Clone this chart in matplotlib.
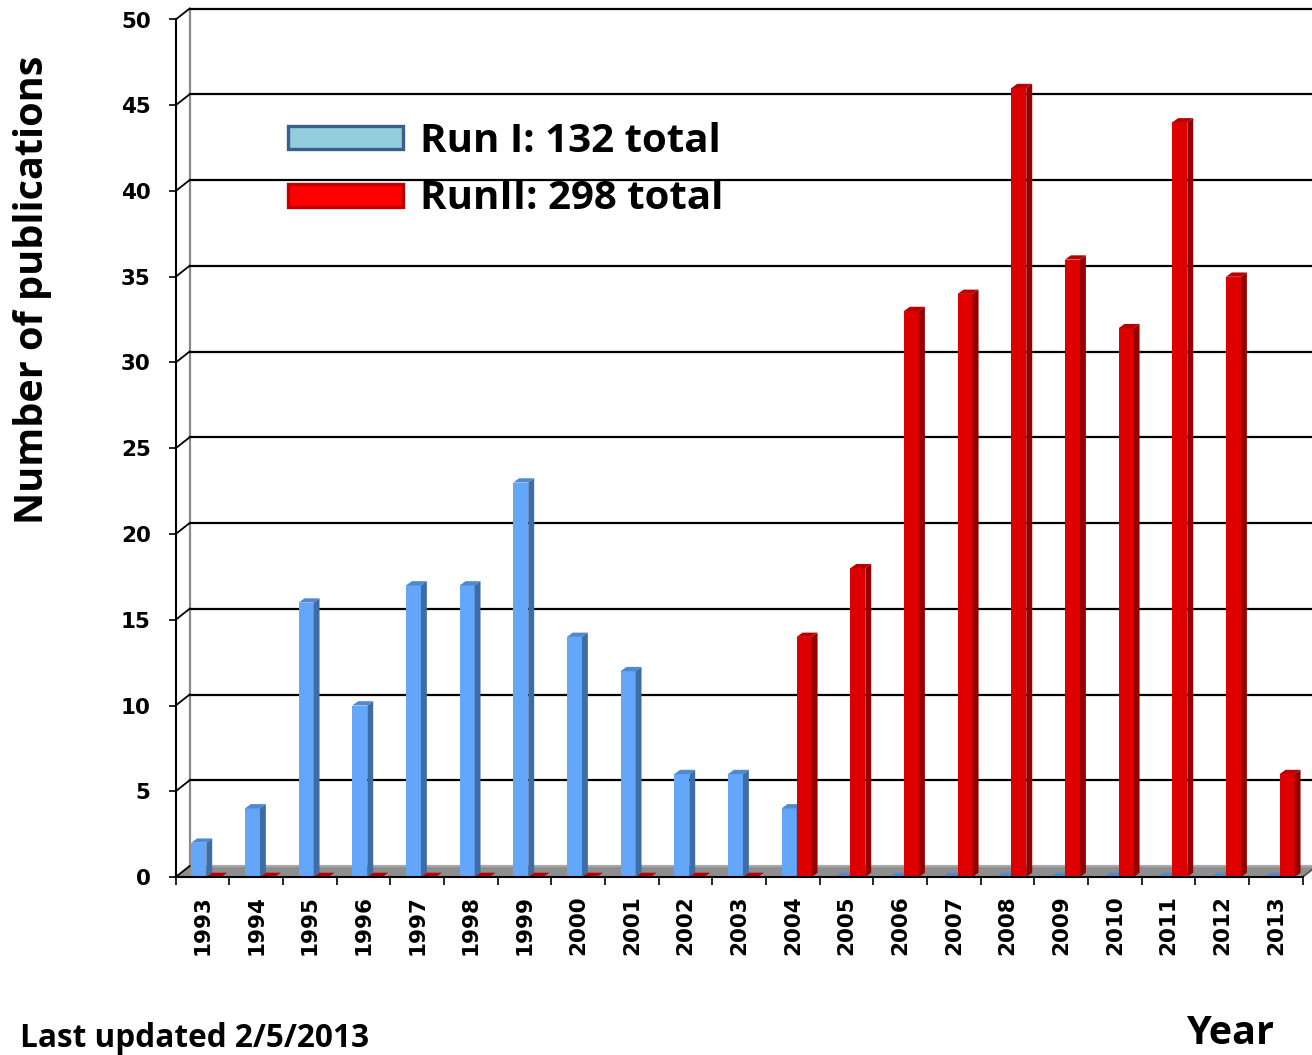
import numpy as np
import matplotlib
matplotlib.use("Agg")
import matplotlib.pyplot as plt
from matplotlib.patches import Polygon, Patch

years = [str(y) for y in range(1993, 2014)]
run1 = [2, 4, 16, 10, 17, 17, 23, 14, 12, 6, 6, 4, 0, 0, 0, 0, 0, 0, 0, 0, 0]
run2 = [0, 0, 0, 0, 0, 0, 0, 0, 0, 0, 0, 14, 18, 33, 34, 46, 36, 32, 44, 35, 6]
labels = ["Run I: 132 total", "RunII: 298 total"]
yticks = list(range(0, 55, 5))

TITLE_FONT = "Open Sans"
BLUE = dict(front="#63a6fa", side="#3e6da6", top="#4f8ad0")
RED = dict(front="#de0000", side="#940000", top="#b80000")

W, H = 1312, 1055
fig = plt.figure(figsize=(W / 100, H / 100), dpi=100)
x0px, x1px, y0px, y50px = 175.7, 1302.7, 877, 19.5
ax = fig.add_axes([x0px / W, 1 - y0px / H, (x1px - x0px) / W, (y0px - y50px) / H])
n = len(years)
ax.set_xlim(-0.5, n - 0.5)
ax.set_ylim(0, 50)

# depth offsets (data units)
wall_dx, wall_dy = 0.26, 0.64
bar_dx, bar_dy = 0.11, 0.25
xmax = -0.5 + (W - x0px) / (x1px - x0px) * n

# floor + back wall
ax.add_patch(Polygon([(-0.5, 0), (n - 0.5, 0), (n - 0.5 + wall_dx, wall_dy), (-0.5 + wall_dx, wall_dy)],
                     closed=True, facecolor="#8e8e8e", edgecolor="none", zorder=1, clip_on=False))
ax.plot([-0.5 + wall_dx, -0.5 + wall_dx], [wall_dy, 50 + wall_dy], color="#8a8a8a", lw=1.6,
        zorder=1, clip_on=False)
for v in yticks:
    c = "#a8a8a8" if v == 0 else "black"
    ax.plot([-0.5 + wall_dx, xmax], [v + wall_dy, v + wall_dy], color=c, lw=1.6, zorder=1, clip_on=False)
    ax.plot([-0.5, -0.5 + wall_dx], [v, v + wall_dy], color="black", lw=1.3, zorder=1, clip_on=False)
ax.plot([n - 0.5, n - 0.5 + wall_dx], [0, wall_dy], color="#555555", lw=1.3, zorder=1, clip_on=False)

# bars
idx = np.arange(n)
bw = 0.28
left1 = idx - 0.5 + 0.29
left2 = left1 + bw


def draw_3d(lefts, vals, col):
    ax.bar(lefts, vals, width=bw, align="edge", color=col["front"], edgecolor="none", zorder=3)
    for l, v in zip(lefts, vals):
        r = l + bw
        ax.add_patch(Polygon([(l, v), (r, v), (r + bar_dx, v + bar_dy), (l + bar_dx, v + bar_dy)],
                             closed=True, facecolor=col["top"], edgecolor="none", zorder=3,
                             clip_on=False))
        if v > 0:
            ax.add_patch(Polygon([(r, 0), (r + bar_dx, bar_dy), (r + bar_dx, v + bar_dy), (r, v)],
                                 closed=True, facecolor=col["side"], edgecolor="none", zorder=3))


draw_3d(left1, run1, BLUE)
draw_3d(left2, run2, RED)

# axes styling
for s in ["top", "right"]:
    ax.spines[s].set_visible(False)
ax.spines["left"].set_linewidth(1.5)
ax.spines["bottom"].set_linewidth(1.5)
ax.spines["left"].set_zorder(4)
ax.spines["bottom"].set_zorder(4)
ax.set_yticks(yticks)
ax.set_yticklabels([str(v) for v in yticks], fontsize=15.5, fontweight="bold", family="DejaVu Sans")
ax.tick_params(axis="y", length=5, width=1.2, pad=13)
ax.set_xticks(idx)
ax.set_xticklabels(years, rotation=90, fontsize=15.5, fontweight="bold", family="DejaVu Sans")
ax.tick_params(axis="x", which="major", length=0, pad=13)
ax.set_xticks(np.arange(n + 1) - 0.5, minor=True)
ax.tick_params(axis="x", which="minor", length=6, width=1.2)
ax.patch.set_alpha(0)

# legend
handles = [Patch(facecolor="#92cddc", edgecolor="#3b5e8c", linewidth=2.4),
           Patch(facecolor="#ff0000", edgecolor="#c00000", linewidth=2.4)]
leg = fig.legend(handles, labels, loc="upper left", bbox_to_anchor=(252 / W, 1 - 86 / H),
                 frameon=False, prop=dict(family=TITLE_FONT, weight="bold", size=29),
                 handlelength=2.85, handleheight=0.5, handletextpad=0.43, labelspacing=0.45)

fig.text(33 / W, 1 - 290 / H, "Number of publications", rotation=90, ha="center", va="center",
         fontsize=28.5, fontweight="bold", family=TITLE_FONT)
fig.text(1230 / W, 1 - 1044 / H, "Year", ha="center", va="baseline",
         fontsize=28.5, fontweight="bold", family=TITLE_FONT)
fig.text(20 / W, 1 - 1047 / H, "Last updated 2/5/2013", ha="left", va="baseline",
         fontsize=22.7, fontweight="bold", family=TITLE_FONT)

fig.savefig("out.png", dpi=100)
